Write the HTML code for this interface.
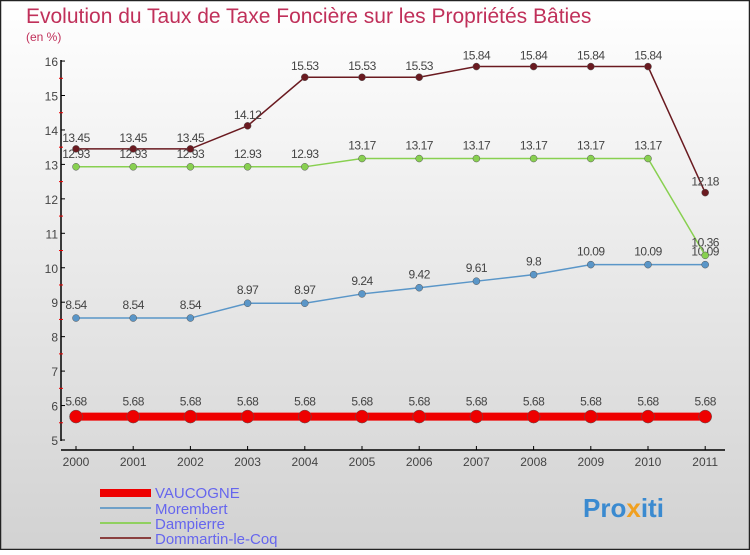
<!DOCTYPE html>
<html><head><meta charset="utf-8"><style>
body{margin:0}
#c{width:750px;height:550px;position:relative;font-family:"Liberation Sans",sans-serif}
</style></head><body>
<div id="c">
<svg id="s" width="750" height="550" xmlns="http://www.w3.org/2000/svg">
<defs><linearGradient id="bg" x1="0" y1="0" x2="0" y2="1"><stop offset="0" stop-color="#ffffff"/><stop offset="1" stop-color="#d2d2d2"/></linearGradient></defs>
<rect x="0.5" y="0.5" width="749" height="549" fill="url(#bg)" stroke="#222" stroke-width="1.5"/>
<text x="26" y="23" font-size="21" fill="#c0305a">Evolution du Taux de Taxe Foncière sur les Propriétés Bâties</text>
<text x="26" y="41" font-size="12" fill="#c0305a">(en %)</text>
<g id="axes"></g><g id="series"></g>
<g>
<rect x="100" y="489" width="51" height="8" fill="#e00"/>
<text x="155" y="498" font-size="15" fill="#6666ee">VAUCOGNE</text>
<line x1="100" y1="508" x2="151" y2="508" stroke="#6fa0c8" stroke-width="2"/>
<text x="155" y="514" font-size="15" fill="#6666ee">Morembert</text>
<line x1="100" y1="523" x2="151" y2="523" stroke="#90d060" stroke-width="2"/>
<text x="155" y="529" font-size="15" fill="#6666ee">Dampierre</text>
<line x1="100" y1="538" x2="151" y2="538" stroke="#8a4040" stroke-width="2"/>
<text x="155" y="544" font-size="15" fill="#6666ee">Dommartin-le-Coq</text>
</g>
<text x="583" y="517" font-size="26" font-weight="bold" fill="#3a8ad0">Pro<tspan fill="#f0a020">x</tspan>iti</text>
</svg></div>
<script>
const years=[2000,2001,2002,2003,2004,2005,2006,2007,2008,2009,2010,2011];
const vaucogne=[5.68,5.68,5.68,5.68,5.68,5.68,5.68,5.68,5.68,5.68,5.68,5.68];
const morembert=[8.54,8.54,8.54,8.97,8.97,9.24,9.42,9.61,9.8,10.09,10.09,10.09];
const dampierre=[12.93,12.93,12.93,12.93,12.93,13.17,13.17,13.17,13.17,13.17,13.17,10.36];
const dommartin=[13.45,13.45,13.45,14.12,15.53,15.53,15.53,15.84,15.84,15.84,15.84,12.18];
const yTicks=[5,6,7,8,9,10,11,12,13,14,15,16];
const NS="http://www.w3.org/2000/svg";
const x=i=>76+i*57.2, y=v=>440-(v-5)*34.45;
function mk(p,t,a){const e=document.createElementNS(NS,t);for(const k in a)e.setAttribute(k,a[k]);p.appendChild(e);return e;}
const ax=document.getElementById('axes');
let l=mk(ax,'line',{x1:61,y1:60,x2:61,y2:441,stroke:'#000','stroke-width':1.5});


l=mk(ax,'line',{x1:61,y1:450,x2:725,y2:450,stroke:'#000','stroke-width':1.5});


yTicks.forEach(v=>{mk(ax,'line',{x1:61,y1:y(v),x2:65,y2:y(v),stroke:'#000'});
 if(v<16)mk(ax,'line',{x1:59,y1:y(v+0.5),x2:63,y2:y(v+0.5),stroke:'#e00'});
 const t=mk(ax,'text',{x:58,y:y(v)+5,'font-size':12,'text-anchor':'end',fill:'#444'});t.textContent=v;
 
 });
years.forEach((yr,i)=>{mk(ax,'line',{x1:x(i),y1:446,x2:x(i),y2:450,stroke:'#000'});
 const t=mk(ax,'text',{x:x(i),y:466,'font-size':12,'text-anchor':'middle',fill:'#444'});t.textContent=yr;
 
 });
const sg=document.getElementById('series');
function series(d,name,col,w,r,lab){const g=mk(sg,'g',{});
 
 
 mk(g,'polyline',{points:d.map((v,i)=>x(i)+','+y(v)).join(' '),fill:'none',stroke:col,'stroke-width':w});
 d.forEach((v,i)=>{const c=mk(g,'circle',{cx:x(i),cy:y(v),r:r,fill:col,stroke:'#555','stroke-width':0.5});
  
  
  const t=mk(g,'text',{x:x(i),y:y(v)-lab,'font-size':12,'text-anchor':'middle',fill:'#444','letter-spacing':'-0.5'});t.textContent=v;
  
  });}
series(morembert,'series-morembert','#5a96c8',1.5,3.5,9);
series(dampierre,'series-dampierre','#88d050',1.5,3.5,9);
series(dommartin,'series-dommartin-le-coq','#6a1a20',1.5,3.5,7);
series(vaucogne,'series-vaucogne','#ee0000',8,6.5,11);
</script></body></html>
